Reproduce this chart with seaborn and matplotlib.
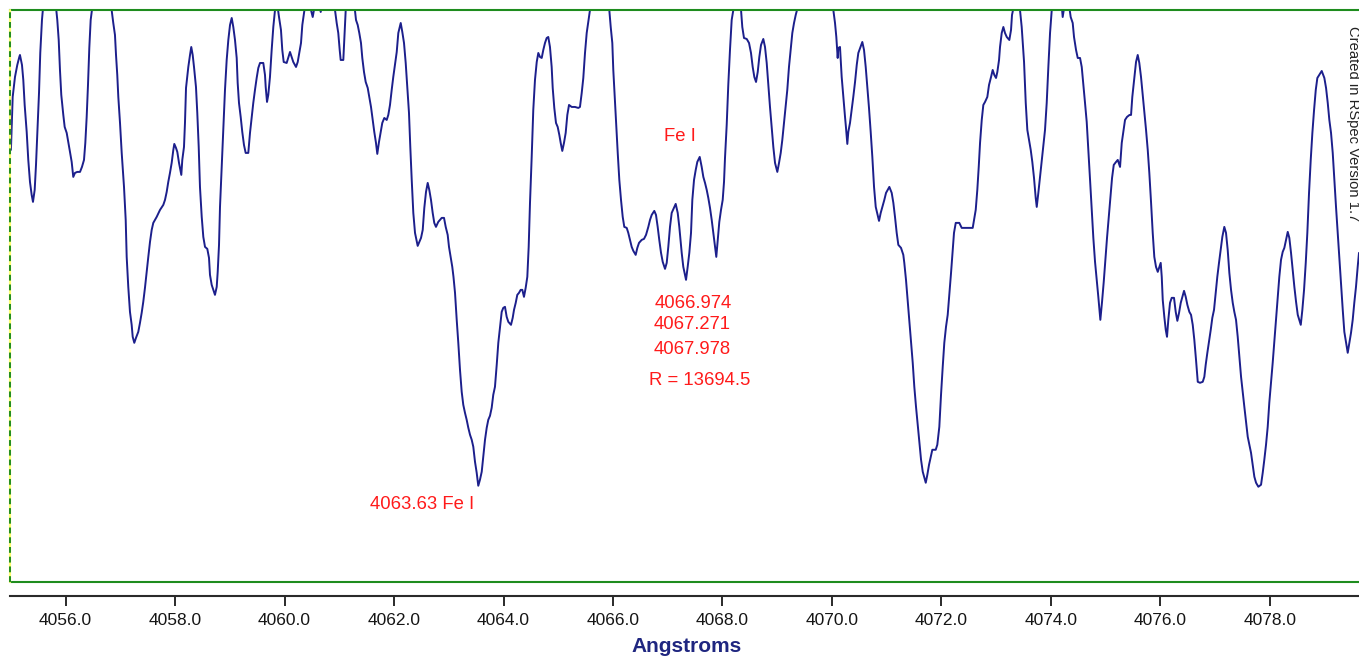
import matplotlib
matplotlib.use("Agg")
import matplotlib.pyplot as plt
import seaborn as sns
import pandas as pd

# ---------------- data ----------------
wavelength = [
    4055.000, 4055.032, 4055.074, 4055.116, 4055.153, 4055.165, 4055.202, 4055.226, 4055.251, 4055.288,
    4055.317, 4055.348, 4055.379, 4055.403, 4055.434, 4055.458, 4055.482, 4055.513, 4055.536, 4055.567,
    4055.604, 4055.695, 4055.805, 4055.847, 4055.873, 4055.896, 4055.920, 4055.957, 4055.982, 4056.019,
    4056.048, 4056.079, 4056.110, 4056.139, 4056.170, 4056.212, 4056.262, 4056.298, 4056.335, 4056.359,
    4056.384, 4056.408, 4056.432, 4056.457, 4056.499, 4056.627, 4056.700, 4056.810, 4056.870, 4056.901,
    4056.920, 4056.943, 4056.962, 4056.993, 4057.024, 4057.066, 4057.097, 4057.115, 4057.144, 4057.175,
    4057.206, 4057.225, 4057.254, 4057.285, 4057.327, 4057.358, 4057.389, 4057.418, 4057.449, 4057.480,
    4057.510, 4057.541, 4057.572, 4057.601, 4057.663, 4057.724, 4057.784, 4057.815, 4057.846, 4057.875,
    4057.906, 4057.937, 4057.967, 4057.985, 4058.016, 4058.040, 4058.071, 4058.089, 4058.113, 4058.131,
    4058.162, 4058.180, 4058.199, 4058.241, 4058.272, 4058.295, 4058.321, 4058.345, 4058.381, 4058.405,
    4058.431, 4058.454, 4058.486, 4058.515, 4058.546, 4058.588, 4058.619, 4058.637, 4058.668, 4058.697,
    4058.728, 4058.760, 4058.778, 4058.802, 4058.820, 4058.851, 4058.884, 4058.911, 4058.942, 4058.972,
    4059.003, 4059.034, 4059.063, 4059.094, 4059.125, 4059.143, 4059.167, 4059.198, 4059.227, 4059.258,
    4059.289, 4059.337, 4059.368, 4059.399, 4059.428, 4059.459, 4059.490, 4059.520, 4059.551, 4059.611,
    4059.642, 4059.655, 4059.679, 4059.702, 4059.733, 4059.764, 4059.794, 4059.825, 4059.856, 4059.898,
    4059.934, 4059.958, 4059.984, 4060.038, 4060.099, 4060.130, 4060.159, 4060.209, 4060.240, 4060.269,
    4060.300, 4060.324, 4060.355, 4060.391, 4060.446, 4060.514, 4060.556, 4060.610, 4060.660, 4060.738,
    4060.848, 4060.921, 4060.952, 4060.981, 4061.007, 4061.025, 4061.073, 4061.091, 4061.117, 4061.195,
    4061.259, 4061.305, 4061.336, 4061.365, 4061.396, 4061.420, 4061.451, 4061.482, 4061.519, 4061.548,
    4061.579, 4061.610, 4061.639, 4061.670, 4061.694, 4061.725, 4061.756, 4061.785, 4061.822, 4061.866,
    4061.895, 4061.926, 4061.957, 4061.986, 4062.017, 4062.049, 4062.078, 4062.122, 4062.151, 4062.182,
    4062.213, 4062.242, 4062.273, 4062.297, 4062.323, 4062.352, 4062.383, 4062.432, 4062.462, 4062.493,
    4062.524, 4062.553, 4062.584, 4062.615, 4062.644, 4062.675, 4062.706, 4062.735, 4062.766, 4062.808,
    4062.871, 4062.913, 4062.944, 4062.980, 4063.004, 4063.035, 4063.064, 4063.086, 4063.114, 4063.145,
    4063.174, 4063.205, 4063.236, 4063.265, 4063.296, 4063.327, 4063.357, 4063.388, 4063.419, 4063.448,
    4063.479, 4063.510, 4063.539, 4063.570, 4063.602, 4063.631, 4063.662, 4063.693, 4063.722, 4063.753,
    4063.784, 4063.813, 4063.844, 4063.876, 4063.905, 4063.936, 4063.967, 4063.996, 4064.027, 4064.058,
    4064.088, 4064.137, 4064.168, 4064.192, 4064.223, 4064.252, 4064.283, 4064.314, 4064.344, 4064.374,
    4064.405, 4064.435, 4064.460, 4064.484, 4064.515, 4064.544, 4064.575, 4064.607, 4064.636, 4064.667,
    4064.698, 4064.727, 4064.758, 4064.789, 4064.818, 4064.849, 4064.880, 4064.899, 4064.928, 4064.959,
    4064.990, 4065.020, 4065.045, 4065.074, 4065.105, 4065.136, 4065.166, 4065.197, 4065.246, 4065.306,
    4065.367, 4065.397, 4065.429, 4065.458, 4065.489, 4065.520, 4065.549, 4065.580, 4065.672, 4065.763,
    4065.873, 4065.933, 4065.959, 4065.988, 4066.006, 4066.032, 4066.056, 4066.087, 4066.116, 4066.147,
    4066.178, 4066.207, 4066.251, 4066.280, 4066.311, 4066.342, 4066.372, 4066.415, 4066.445, 4066.476,
    4066.525, 4066.567, 4066.604, 4066.646, 4066.677, 4066.708, 4066.755, 4066.786, 4066.817, 4066.846,
    4066.878, 4066.909, 4066.951, 4066.982, 4067.011, 4067.042, 4067.073, 4067.146, 4067.183, 4067.212,
    4067.256, 4067.285, 4067.335, 4067.365, 4067.395, 4067.426, 4067.450, 4067.481, 4067.512, 4067.541,
    4067.585, 4067.621, 4067.651, 4067.682, 4067.713, 4067.742, 4067.773, 4067.804, 4067.834, 4067.888,
    4067.914, 4067.943, 4067.974, 4068.005, 4068.029, 4068.047, 4068.078, 4068.107, 4068.138, 4068.169,
    4068.199, 4068.267, 4068.340, 4068.363, 4068.394, 4068.444, 4068.486, 4068.522, 4068.553, 4068.583,
    4068.614, 4068.645, 4068.674, 4068.705, 4068.747, 4068.778, 4068.809, 4068.838, 4068.869, 4068.900,
    4068.930, 4068.961, 4069.003, 4069.034, 4069.065, 4069.094, 4069.125, 4069.156, 4069.185, 4069.216,
    4069.247, 4069.277, 4069.308, 4069.339, 4069.363, 4069.509, 4069.692, 4069.874, 4069.984, 4070.026,
    4070.057, 4070.081, 4070.106, 4070.117, 4070.148, 4070.179, 4070.209, 4070.240, 4070.258, 4070.282,
    4070.300, 4070.331, 4070.362, 4070.391, 4070.423, 4070.454, 4070.483, 4070.556, 4070.587, 4070.618,
    4070.647, 4070.678, 4070.709, 4070.739, 4070.770, 4070.801, 4070.861, 4070.892, 4070.922, 4070.958,
    4070.989, 4071.050, 4071.093, 4071.123, 4071.153, 4071.184, 4071.214, 4071.263, 4071.305, 4071.323,
    4071.354, 4071.386, 4071.415, 4071.446, 4071.477, 4071.506, 4071.537, 4071.568, 4071.597, 4071.629,
    4071.660, 4071.715, 4071.744, 4071.775, 4071.806, 4071.835, 4071.897, 4071.926, 4071.963, 4071.994,
    4072.025, 4072.054, 4072.085, 4072.116, 4072.146, 4072.177, 4072.208, 4072.231, 4072.263, 4072.328,
    4072.372, 4072.573, 4072.597, 4072.628, 4072.657, 4072.683, 4072.707, 4072.738, 4072.767, 4072.798,
    4072.840, 4072.871, 4072.908, 4072.938, 4072.968, 4072.999, 4073.023, 4073.054, 4073.072, 4073.103,
    4073.133, 4073.163, 4073.195, 4073.242, 4073.273, 4073.291, 4073.377, 4073.437, 4073.468, 4073.511,
    4073.542, 4073.571, 4073.602, 4073.633, 4073.662, 4073.693, 4073.724, 4073.743, 4073.772, 4073.803,
    4073.834, 4073.863, 4073.894, 4073.925, 4073.955, 4073.986, 4074.017, 4074.095, 4074.187, 4074.217,
    4074.259, 4074.338, 4074.363, 4074.400, 4074.424, 4074.461, 4074.492, 4074.534, 4074.565, 4074.594,
    4074.625, 4074.656, 4074.686, 4074.717, 4074.748, 4074.777, 4074.808, 4074.839, 4074.868, 4074.905,
    4074.936, 4074.967, 4074.996, 4075.027, 4075.058, 4075.088, 4075.119, 4075.150, 4075.192, 4075.223,
    4075.265, 4075.296, 4075.325, 4075.356, 4075.392, 4075.438, 4075.466, 4075.489, 4075.526, 4075.557,
    4075.588, 4075.617, 4075.648, 4075.679, 4075.709, 4075.740, 4075.771, 4075.800, 4075.831, 4075.862,
    4075.891, 4075.922, 4075.954, 4075.983, 4076.008, 4076.027, 4076.045, 4076.074, 4076.100, 4076.123,
    4076.147, 4076.178, 4076.209, 4076.251, 4076.282, 4076.312, 4076.343, 4076.374, 4076.403, 4076.434,
    4076.465, 4076.495, 4076.531, 4076.562, 4076.593, 4076.622, 4076.653, 4076.685, 4076.726, 4076.776,
    4076.805, 4076.830, 4076.860, 4076.890, 4076.922, 4076.951, 4076.982, 4077.013, 4077.042, 4077.073,
    4077.104, 4077.134, 4077.170, 4077.201, 4077.232, 4077.262, 4077.293, 4077.324, 4077.353, 4077.384,
    4077.415, 4077.445, 4077.476, 4077.507, 4077.536, 4077.567, 4077.598, 4077.627, 4077.658, 4077.689,
    4077.719, 4077.750, 4077.792, 4077.841, 4077.872, 4077.901, 4077.932, 4077.963, 4077.992, 4078.023,
    4078.054, 4078.084, 4078.115, 4078.146, 4078.175, 4078.206, 4078.237, 4078.267, 4078.329, 4078.358,
    4078.389, 4078.420, 4078.450, 4078.481, 4078.512, 4078.567, 4078.596, 4078.627, 4078.658, 4078.687,
    4078.718, 4078.749, 4078.779, 4078.810, 4078.841, 4078.870, 4078.950, 4078.998, 4079.029, 4079.060,
    4079.089, 4079.120, 4079.151, 4079.180, 4079.211, 4079.242, 4079.272, 4079.303, 4079.334, 4079.363,
    4079.425, 4079.454, 4079.485, 4079.516, 4079.545, 4079.576, 4079.607, 4079.631,
]

flux = [
    432, 485, 505, 517, 525, 527, 517, 502, 477, 450,
    422, 400, 387, 380, 392, 417, 449, 489, 529, 562,
    585, 605, 585, 562, 542, 512, 487, 467, 455, 449,
    440, 430, 420, 405, 409, 410, 410, 415, 422, 439,
    465, 497, 534, 562, 580, 620, 625, 585, 559, 547,
    527, 507, 485, 459, 429, 395, 362, 325, 295, 270,
    257, 245, 239, 244, 250, 259, 269, 280, 294, 310,
    325, 340, 352, 359, 365, 372, 377, 382, 390, 400,
    409, 419, 432, 438, 434, 430, 419, 414, 407, 422,
    435, 459, 494, 515, 527, 535, 527, 515, 495, 469,
    435, 395, 365, 345, 335, 333, 324, 307, 297, 292,
    287, 295, 310, 337, 375, 415, 457, 492, 522, 542,
    557, 564, 555, 542, 524, 499, 479, 465, 450, 437,
    429, 429, 449, 464, 479, 492, 504, 514, 519, 519,
    507, 495, 480, 487, 505, 532, 555, 572, 582, 565,
    552, 532, 520, 519, 530, 525, 520, 515, 520, 529,
    539, 557, 569, 582, 580, 565, 578, 585, 570, 595,
    590, 572, 559, 549, 532, 522, 522, 542, 572, 600,
    585, 562, 557, 549, 539, 524, 510, 500, 494, 485,
    475, 462, 450, 439, 428, 440, 450, 459, 464, 462,
    467, 477, 492, 505, 517, 530, 549, 559, 550, 539,
    519, 495, 469, 435, 402, 369, 349, 336, 340, 344,
    352, 374, 390, 399, 392, 382, 369, 359, 355, 360,
    364, 364, 355, 347, 335, 325, 315, 305, 289, 262,
    239, 212, 190, 177, 169, 162, 154, 147, 142, 135,
    120, 109, 96, 102, 110, 125, 142, 154, 162, 166,
    174, 187, 195, 217, 239, 255, 270, 274, 275, 265,
    260, 257, 264, 272, 279, 287, 289, 292, 292, 285,
    294, 305, 335, 379, 425, 472, 502, 520, 529, 525,
    524, 532, 539, 544, 545, 535, 515, 494, 474, 459,
    455, 447, 439, 431, 439, 449, 467, 477, 475, 475,
    474, 475, 489, 504, 529, 549, 560, 572, 600, 610,
    590, 572, 555, 539, 512, 485, 459, 429, 402, 382,
    365, 355, 354, 349, 342, 335, 331, 327, 334, 339,
    342, 343, 347, 355, 362, 367, 371, 367, 355, 342,
    329, 320, 313, 319, 335, 355, 369, 378, 369, 355,
    329, 315, 302, 315, 329, 349, 382, 402, 412, 420,
    425, 415, 405, 399, 392, 384, 374, 362, 349, 325,
    342, 360, 372, 382, 400, 424, 457, 497, 532, 562,
    572, 600, 572, 555, 544, 543, 539, 529, 515, 505,
    500, 510, 525, 537, 543, 535, 519, 497, 475, 454,
    435, 419, 410, 419, 429, 442, 459, 475, 492, 515,
    532, 549, 559, 567, 572, 610, 630, 620, 590, 572,
    559, 545, 524, 534, 535, 505, 485, 465, 454, 438,
    450, 459, 472, 485, 500, 517, 529, 540, 532, 515,
    495, 474, 450, 425, 395, 375, 361, 369, 375, 382,
    389, 395, 389, 379, 365, 349, 337, 334, 327, 319,
    302, 280, 260, 240, 219, 195, 175, 157, 139, 122,
    110, 99, 107, 117, 125, 132, 132, 137, 155, 187,
    215, 239, 255, 267, 287, 309, 332, 349, 359, 359,
    354, 354, 362, 372, 392, 415, 439, 462, 477, 480,
    485, 497, 505, 512, 507, 504, 510, 522, 535, 549,
    555, 549, 545, 542, 552, 567, 590, 572, 555, 520,
    479, 452, 442, 432, 420, 404, 384, 375, 389, 405,
    422, 437, 452, 479, 515, 549, 572, 600, 585, 565,
    580, 575, 565, 559, 545, 532, 524, 524, 515, 497,
    479, 460, 432, 402, 372, 344, 320, 302, 285, 262,
    280, 300, 322, 344, 364, 384, 404, 417, 420, 422,
    415, 439, 450, 462, 465, 467, 467, 485, 504, 520,
    527, 519, 505, 487, 469, 452, 432, 409, 380, 349,
    325, 315, 310, 315, 319, 305, 282, 265, 252, 245,
    262, 279, 284, 284, 270, 261, 269, 279, 285, 291,
    285, 277, 270, 267, 257, 242, 222, 200, 199, 200,
    205, 217, 229, 240, 252, 264, 272, 289, 305, 319,
    332, 345, 355, 349, 332, 309, 292, 279, 270, 262,
    245, 225, 205, 189, 175, 160, 145, 137, 129, 117,
    105, 99, 95, 97, 109, 122, 137, 155, 179, 199,
    219, 240, 262, 284, 305, 322, 330, 334, 350, 344,
    329, 312, 295, 280, 267, 257, 272, 292, 319, 349,
    389, 422, 449, 472, 492, 504, 511, 504, 494, 479,
    462, 449, 429, 402, 375, 349, 325, 299, 272, 250,
    229, 239, 249, 262, 279, 295, 315, 329,
]

tick_values = [4056, 4058, 4060, 4062, 4064, 4066, 4068, 4070, 4072, 4074, 4076, 4078]
tick_labels = ["4056.0", "4058.0", "4060.0", "4062.0", "4064.0", "4066.0",
               "4068.0", "4070.0", "4072.0", "4074.0", "4076.0", "4078.0"]

line_labels = ["4066.974", "4067.271", "4067.978"]
line_label_pos = [(4067.463, 278), (4067.450, 257), (4067.450, 232)]
feI_main_label = "4063.63 Fe I"
feI_main_pos = (4062.511, 77)
feI_group_label = "Fe I"
feI_group_pos = (4067.225, 445)
resolution_label = "R = 13694.5"
resolution_pos = (4067.590, 201)

x_min, x_max = 4054.983, 4079.631
y_min, y_max = 0, 572

# ---------------- style ----------------
sns.set_style("white")
plt.rcParams["font.family"] = ["Liberation Sans", "DejaVu Sans"]

W, H = 1359, 658
fig = plt.figure(figsize=(W / 100, H / 100), dpi=100)
ax = fig.add_axes([10 / W, 1 - 581.7 / H, 1349 / W, (581.7 - 10) / H])

df = pd.DataFrame({"Angstroms": wavelength, "Flux": flux})
sns.lineplot(data=df, x="Angstroms", y="Flux", ax=ax, color="#1c1f8c",
             linewidth=1.4, estimator=None, sort=False)

ax.set_xlim(x_min, x_max)
ax.set_ylim(y_min, y_max)
ax.set_yticks([])
ax.set_xlabel("")
ax.set_ylabel("")
ax.set_xticks(tick_values)
ax.set_xticklabels(tick_labels)

green = "#1e8c1e"
ax.spines["top"].set_color(green)
ax.spines["top"].set_linewidth(1.5)
ax.spines["right"].set_visible(False)
ax.spines["left"].set_visible(False)
ax.spines["bottom"].set_position(("outward", 10))
ax.spines["bottom"].set_color("#2a2a2a")
ax.spines["bottom"].set_linewidth(1.5)

ax.axhline(y_min, color=green, lw=1.5, clip_on=False, zorder=3)
ax.axvline(x_min, color="#ffff70", lw=1.6, clip_on=False, zorder=3)
ax.axvline(x_min, color=green, lw=1.4, ls=(0, (3, 2)), clip_on=False, zorder=4)

ax.tick_params(axis="x", direction="out", length=7.2, width=1.4, color="#2a2a2a",
               labelsize=12.5, pad=5, labelcolor="#151515", bottom=True)

red = "#ff1a1a"
red_size = 13.3
for lbl, (xx, yy) in zip(line_labels, line_label_pos):
    ax.text(xx, yy, lbl, color=red, ha="center", va="center", fontsize=red_size)
ax.text(*feI_main_pos, feI_main_label, color=red, ha="center", va="center", fontsize=red_size)
ax.text(*feI_group_pos, feI_group_label, color=red, ha="center", va="center", fontsize=red_size)
ax.text(*resolution_pos, resolution_label, color=red, ha="center", va="center", fontsize=red_size)

fig.text(1353 / W, 1 - 124 / H, "Created in RSpec Version 1.7", rotation=270,
         ha="center", va="center", fontsize=10.6, color="#222222")
fig.text(686.7 / W, 1 - 646 / H, "Angstroms", ha="center", va="center",
         fontsize=15, fontweight="bold", color="#1f2680")

fig.savefig("out.png", dpi=100)
